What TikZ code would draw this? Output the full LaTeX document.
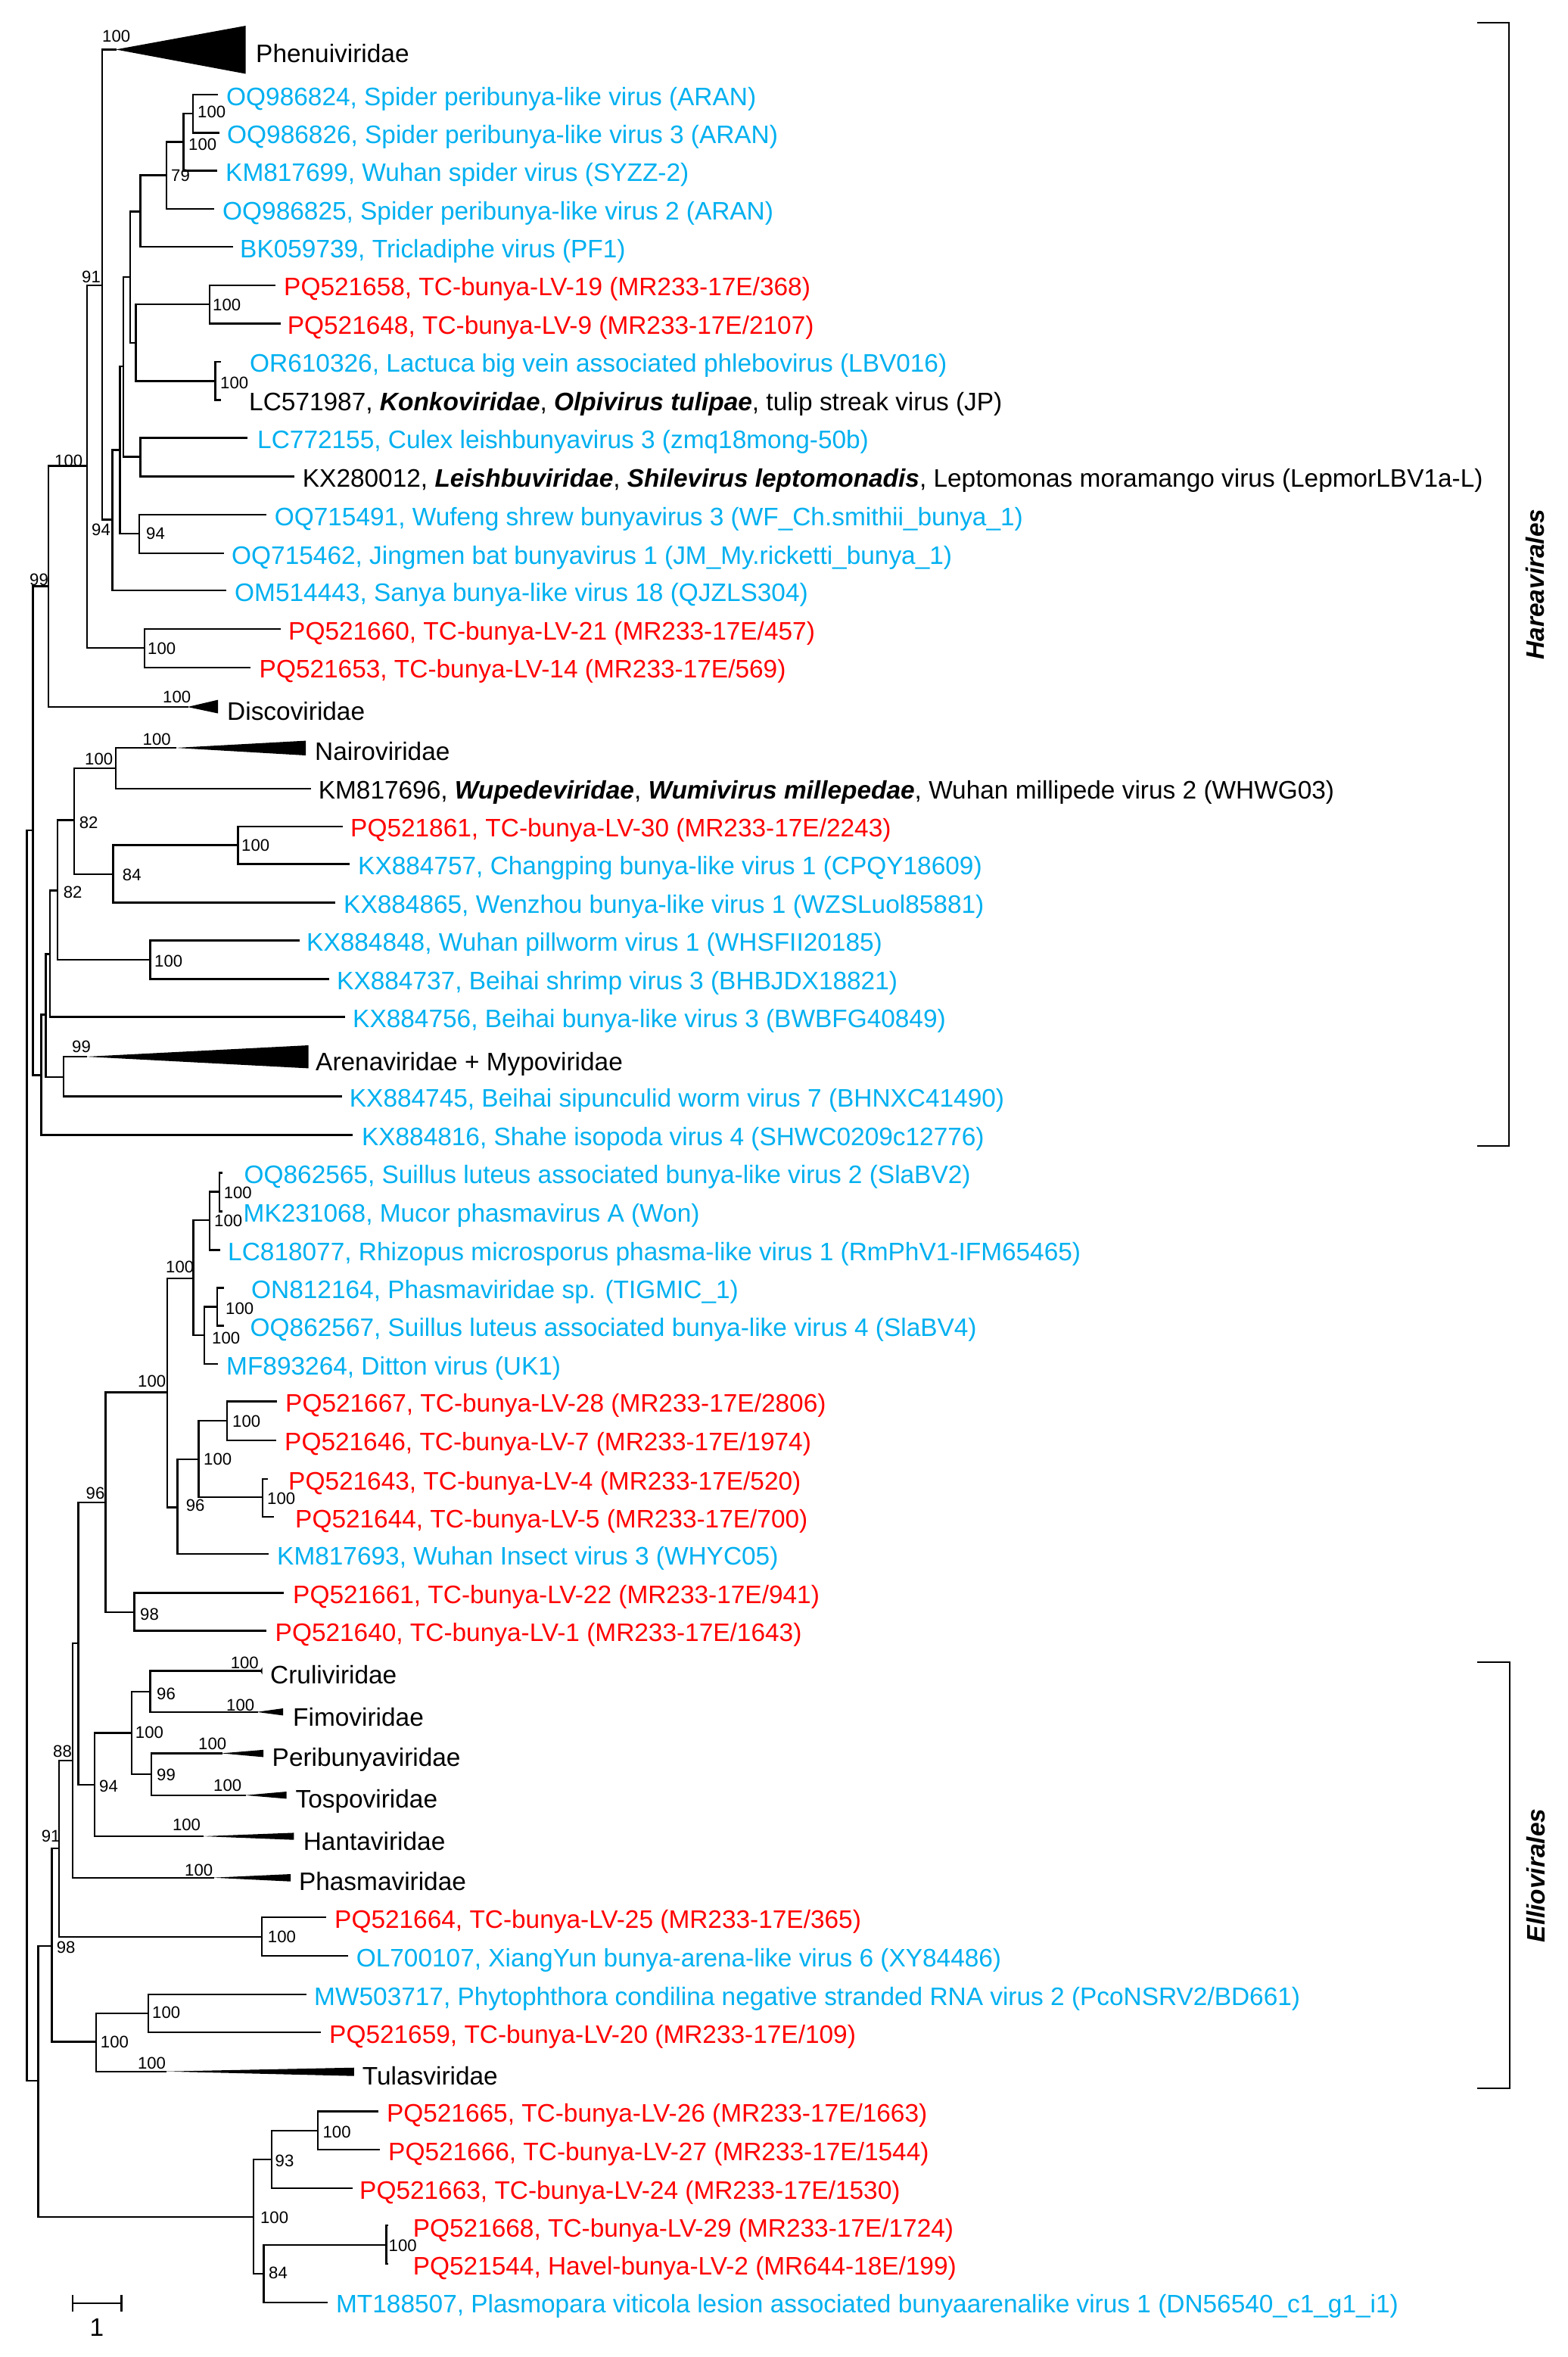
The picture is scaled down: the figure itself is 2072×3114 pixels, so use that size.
\documentclass[tikz,border=0pt]{standalone}
\usepackage{fontspec}
\setmainfont{Liberation Sans}
\usepackage{xcolor}
\usepackage{tikz}
\usetikzlibrary{positioning}

\definecolor{ncbiblue}{RGB}{0,176,240}
\definecolor{tcred}{RGB}{255,0,0}
\newcommand{\taxon}[1]{\textbf{\textit{#1}}}

\begin{document}
\begin{tikzpicture}[x=0.01cm,y=-0.01cm,line width=0.7pt,line cap=rect,
    every node/.style={inner sep=0pt,anchor=base west},
    leaf/.style={font=\fontsize{9.5}{11}\selectfont},
    known/.style={leaf,text=ncbiblue},
    novel/.style={leaf,text=tcred},
    family/.style={leaf},
    boot/.style={font=\fontsize{6.3}{7}\selectfont,anchor=west},
    order/.style={font=\fontsize{9.5}{11}\selectfont\bfseries\itshape,rotate=90,anchor=center}]
  \useasboundingbox (0,0) rectangle (2072,3114);

  % internal nodes, Hareavirales part
  \coordinate (root) at (35.7,1923);
  \coordinate (c1) at (43.3,1097);
  \coordinate (c2) at (63.8,774.6);
  \coordinate (c3) at (115.2,615.7);
  \coordinate (c4) at (134.8,376.8);
  \coordinate (c5) at (148.7,686.4);
  \coordinate (c6) at (158.5,594.3);
  \coordinate (c7) at (163,484);
  \coordinate (c8) at (171.9,366);
  \coordinate (c9) at (185.3,279.3);
  \coordinate (c10) at (220,231.4);
  \coordinate (c11) at (242.4,187.5);
  \coordinate (c12) at (254.9,150);
  \coordinate (c13) at (179.5,452.9);
  \coordinate (c14) at (276.8,401.8);
  \coordinate (c15) at (284.4,503.6);
  \coordinate (c16) at (185.3,603.6);
  \coordinate (c17) at (184,705);
  \coordinate (c18) at (191,856);
  \coordinate (c19) at (54.5,1420.4);
  \coordinate (c20) at (60.3,1340.7);
  \coordinate (c21) at (66,1260.4);
  \coordinate (c22) at (75.9,1176.4);
  \coordinate (c23) at (98.2,1083.6);
  \coordinate (c24) at (153,1015);
  \coordinate (c25) at (149.6,1155);
  \coordinate (c26) at (314.7,1116.4);
  \coordinate (c27) at (198.7,1268.2);
  \coordinate (c28) at (84,1422.8);

  % internal nodes, Elliovirales part
  \coordinate (e1) at (50.4,2749);
  \coordinate (e2) at (68.3,2570.7);
  \coordinate (e3) at (78.1,2442);
  \coordinate (e4) at (96,2326);
  \coordinate (e5) at (103.6,2170.7);
  \coordinate (e6) at (139.7,1985);
  \coordinate (e7) at (221,1839.6);
  \coordinate (e8) at (255.4,1689);
  \coordinate (e9) at (276.8,1612);
  \coordinate (e10) at (290,1574.6);
  \coordinate (e11) at (270,1764);
  \coordinate (e12) at (287,1726.4);
  \coordinate (e13) at (234.4,1991.4);
  \coordinate (e14) at (262.5,1927.9);
  \coordinate (e15) at (300,1877);
  \coordinate (e16) at (346.9,1978.2);
  \coordinate (e17) at (177.7,2130);
  \coordinate (e18) at (125,2358.2);
  \coordinate (e19) at (174.1,2289.6);
  \coordinate (e20) at (198.7,2235);
  \coordinate (e21) at (200,2344);
  \coordinate (e22) at (346,2559);
  \coordinate (e23) at (127.2,2697.5);
  \coordinate (e24) at (196,2660);
  \coordinate (e25) at (334.8,2929);
  \coordinate (e26) at (358.9,2852.7);
  \coordinate (e27) at (420,2815);
  \coordinate (e28) at (348.7,3004);
  \coordinate (e29) at (510.7,2965.7);

  % branch tips
  \coordinate (tPhen) at (153,65.4);
  \coordinate (tOQ986824) at (287,125);
  \coordinate (tOQ986826) at (288.8,175.7);
  \coordinate (tKM817699) at (285.7,225.7);
  \coordinate (tOQ986825) at (282,276);
  \coordinate (tBK059739) at (307,326);
  \coordinate (tPQ521658) at (362.5,376.8);
  \coordinate (tPQ521648) at (369.6,427.5);
  \coordinate (tOR610326) at (291,477.9);
  \coordinate (tLC571987) at (291,528.6);
  \coordinate (tLC772155) at (326,578.6);
  \coordinate (tKX280012) at (387.5,629.3);
  \coordinate (tOQ715491) at (350.4,680);
  \coordinate (tOQ715462) at (294.6,731);
  \coordinate (tOM514443) at (298,780);
  \coordinate (tPQ521660) at (369.6,831);
  \coordinate (tPQ521653) at (330,881.8);
  \coordinate (tDisco) at (247.8,934);
  \coordinate (tNairo) at (232,988);
  \coordinate (tKM817696) at (410,1041.8);
  \coordinate (tPQ521861) at (451.8,1091.8);
  \coordinate (tKX884757) at (460.7,1141.4);
  \coordinate (tKX884865) at (442,1192.5);
  \coordinate (tKX884848) at (395,1242.5);
  \coordinate (tKX884737) at (434,1293.6);
  \coordinate (tKX884756) at (454.5,1343.6);
  \coordinate (tArena) at (113.8,1396);
  \coordinate (tKX884745) at (451,1448.6);
  \coordinate (tKX884816) at (464.3,1499.6);
  \coordinate (tOQ862565) at (292.5,1549.6);
  \coordinate (tMK231068) at (292.5,1600.4);
  \coordinate (tLC818077) at (290,1651.4);
  \coordinate (tON812164) at (294.6,1701.4);
  \coordinate (tOQ862567) at (294.6,1751.4);
  \coordinate (tMF893264) at (287,1802);
  \coordinate (tPQ521667) at (365,1851.4);
  \coordinate (tPQ521646) at (364,1902.9);
  \coordinate (tPQ521643) at (352.7,1954);
  \coordinate (tPQ521644) at (360.7,2004);
  \coordinate (tKM817693) at (354,2053.2);
  \coordinate (tPQ521661) at (374,2104.6);
  \coordinate (tPQ521640) at (350.4,2154.6);
  \coordinate (tCruli) at (343.8,2207.5);
  \coordinate (tFimo) at (339.3,2261.8);
  \coordinate (tPeri) at (292.4,2316.4);
  \coordinate (tTospo) at (323.7,2371.8);
  \coordinate (tHanta) at (267.9,2426);
  \coordinate (tPhasma) at (281.3,2480.7);
  \coordinate (tPQ521664) at (429.5,2533.2);
  \coordinate (tOL700107) at (458.5,2584);
  \coordinate (tMW503717) at (404,2635);
  \coordinate (tPQ521659) at (423,2685);
  \coordinate (tTulas) at (218.8,2736.7);
  \coordinate (tPQ521665) at (498.7,2789.3);
  \coordinate (tPQ521666) at (500.9,2840);
  \coordinate (tPQ521663) at (464.3,2891);
  \coordinate (tPQ521668) at (511.5,2940);
  \coordinate (tPQ521544) at (511.5,2991);
  \coordinate (tMT188507) at (432,3041.7);

  % branches
  \draw (root) |- (c1) (root) |- (e1);
  \draw (c1) |- (c2) (c1) |- (c19);
  \draw (c2) |- (c3) (c2) |- (tDisco);
  \draw (c3) |- (c4) (c3) |- (c18);
  \draw (c4) |- (tPhen) (c4) |- (c5);
  \draw (c5) |- (c6) (c5) |- (tOM514443);
  \draw (c6) |- (c7) (c6) |- (c17);
  \draw (c7) |- (c8) (c7) |- (c16);
  \draw (c8) |- (c9) (c8) |- (c13);
  \draw (c9) |- (c10) (c9) |- (tBK059739);
  \draw (c10) |- (c11) (c10) |- (tOQ986825);
  \draw (c11) |- (c12) (c11) |- (tKM817699);
  \draw (c12) |- (tOQ986824) (c12) |- (tOQ986826);
  \draw (c13) |- (c14) (c13) |- (c15);
  \draw (c14) |- (tPQ521658) (c14) |- (tPQ521648);
  \draw (c15) |- (tOR610326) (c15) |- (tLC571987);
  \draw (c16) |- (tLC772155) (c16) |- (tKX280012);
  \draw (c17) |- (tOQ715491) (c17) |- (tOQ715462);
  \draw (c18) |- (tPQ521660) (c18) |- (tPQ521653);
  \draw (c19) |- (c20) (c19) |- (tKX884816);
  \draw (c20) |- (c21) (c20) |- (c28);
  \draw (c21) |- (c22) (c21) |- (tKX884756);
  \draw (c22) |- (c23) (c22) |- (c27);
  \draw (c23) |- (c24) (c23) |- (c25);
  \draw (c24) |- (tNairo) (c24) |- (tKM817696);
  \draw (c25) |- (c26) (c25) |- (tKX884865);
  \draw (c26) |- (tPQ521861) (c26) |- (tKX884757);
  \draw (c27) |- (tKX884848) (c27) |- (tKX884737);
  \draw (c28) |- (tArena) (c28) |- (tKX884745);
  \draw (e1) |- (e2) (e1) |- (e25);
  \draw (e2) |- (e3) (e2) |- (e23);
  \draw (e3) |- (e4) (e3) |- (e22);
  \draw (e4) |- (e5) (e4) |- (tPhasma);
  \draw (e5) |- (e6) (e5) |- (e18);
  \draw (e6) |- (e7) (e6) |- (e17);
  \draw (e7) |- (e8) (e7) |- (e13);
  \draw (e8) |- (e9) (e8) |- (e11);
  \draw (e9) |- (e10) (e9) |- (tLC818077);
  \draw (e10) |- (tOQ862565) (e10) |- (tMK231068);
  \draw (e11) |- (e12) (e11) |- (tMF893264);
  \draw (e12) |- (tON812164) (e12) |- (tOQ862567);
  \draw (e13) |- (e14) (e13) |- (tKM817693);
  \draw (e14) |- (e15) (e14) |- (e16);
  \draw (e15) |- (tPQ521667) (e15) |- (tPQ521646);
  \draw (e16) |- (tPQ521643) (e16) |- (tPQ521644);
  \draw (e17) |- (tPQ521661) (e17) |- (tPQ521640);
  \draw (e18) |- (e19) (e18) |- (tHanta);
  \draw (e19) |- (e20) (e19) |- (e21);
  \draw (e20) |- (tCruli) (e20) |- (tFimo);
  \draw (e21) |- (tPeri) (e21) |- (tTospo);
  \draw (e22) |- (tPQ521664) (e22) |- (tOL700107);
  \draw (e23) |- (e24) (e23) |- (tTulas);
  \draw (e24) |- (tMW503717) (e24) |- (tPQ521659);
  \draw (e25) |- (e26) (e25) |- (e28);
  \draw (e26) |- (e27) (e26) |- (tPQ521663);
  \draw (e27) |- (tPQ521665) (e27) |- (tPQ521666);
  \draw (e28) |- (e29) (e28) |- (tMT188507);
  \draw (e29) |- (tPQ521668) (e29) |- (tPQ521544);

  % collapsed clades
  \fill (tPhen) -- (324.6,34) -- (324.6,97.5) -- cycle;
  \fill (tDisco) -- (288,924.6) -- (288,942.5) -- cycle;
  \fill (tNairo) -- (404,978.6) -- (404,998) -- cycle;
  \fill (tArena) -- (407.6,1381) -- (407.6,1411.4) -- cycle;
  \fill (tCruli) -- (346.5,2203) -- (346.5,2212) -- cycle;
  \fill (tFimo) -- (374,2257) -- (374,2266.4) -- cycle;
  \fill (tPeri) -- (348.2,2311.8) -- (348.2,2321.4) -- cycle;
  \fill (tTospo) -- (378.6,2367) -- (378.6,2376.4) -- cycle;
  \fill (tHanta) -- (388.4,2421.4) -- (388.4,2430.7) -- cycle;
  \fill (tPhasma) -- (384,2476) -- (384,2485.7) -- cycle;
  \fill (tTulas) -- (467.9,2731.7) -- (467.9,2742.7) -- cycle;

  % leaf labels
  \node[family] (Phen) at (337,82) {Phenuiviridae};
  \node[known] (OQ986824) at (298,139) {OQ986824, Spider peribunya-like virus (ARAN)};
  \node[known] (OQ986826) at (299,189.7) {OQ986826, Spider peribunya-like virus 3 (ARAN)};
  \node[known] (KM817699) at (297,239.7) {KM817699, Wuhan spider virus (SYZZ-2)};
  \node[known] (OQ986825) at (293,290) {OQ986825, Spider peribunya-like virus 2 (ARAN)};
  \node[known] (BK059739) at (316,340) {BK059739, Tricladiphe virus (PF1)};
  \node[novel] (PQ521658) at (374,390.8) {PQ521658, TC-bunya-LV-19 (MR233-17E/368)};
  \node[novel] (PQ521648) at (378.6,441.5) {PQ521648, TC-bunya-LV-9 (MR233-17E/2107)};
  \node[known] (OR610326) at (329,491.9) {OR610326, Lactuca big vein associated phlebovirus (LBV016)};
  \node[leaf] (LC571987) at (328,542.6) {LC571987, \taxon{Konkoviridae}, \taxon{Olpivirus tulipae}, tulip streak virus (JP)};
  \node[known] (LC772155) at (339,592.6) {LC772155, Culex leishbunyavirus 3 (zmq18mong-50b)};
  \node[leaf] (KX280012) at (398.7,643.3) {KX280012, \taxon{Leishbuviridae}, \taxon{Shilevirus leptomonadis}, Leptomonas moramango virus (LepmorLBV1a-L)};
  \node[known] (OQ715491) at (361.6,694) {OQ715491, Wufeng shrew bunyavirus 3 (WF\_Ch.smithii\_bunya\_1)};
  \node[known] (OQ715462) at (305,745) {OQ715462, Jingmen bat bunyavirus 1 (JM\_My.ricketti\_bunya\_1)};
  \node[known] (OM514443) at (309,794) {OM514443, Sanya bunya-like virus 18 (QJZLS304)};
  \node[novel] (PQ521660) at (380,845) {PQ521660, TC-bunya-LV-21 (MR233-17E/457)};
  \node[novel] (PQ521653) at (341.5,895.8) {PQ521653, TC-bunya-LV-14 (MR233-17E/569)};
  \node[family] (Disco) at (299,951) {Discoviridae};
  \node[family] (Nairo) at (415,1004.6) {Nairoviridae};
  \node[leaf] (KM817696) at (419.6,1055.8) {KM817696, \taxon{Wupedeviridae}, \taxon{Wumivirus millepedae}, Wuhan millipede virus 2 (WHWG03)};
  \node[novel] (PQ521861) at (462,1105.8) {PQ521861, TC-bunya-LV-30 (MR233-17E/2243)};
  \node[known] (KX884757) at (472,1155.4) {KX884757, Changping bunya-like virus 1 (CPQY18609)};
  \node[known] (KX884865) at (453,1206.5) {KX884865, Wenzhou bunya-like virus 1 (WZSLuol85881)};
  \node[known] (KX884848) at (404,1256.5) {KX884848, Wuhan pillworm virus 1 (WHSFII20185)};
  \node[known] (KX884737) at (444,1307.6) {KX884737, Beihai shrimp virus 3 (BHBJDX18821)};
  \node[known] (KX884756) at (465,1357.6) {KX884756, Beihai bunya-like virus 3 (BWBFG40849)};
  \node[family] (Arena) at (416,1414) {Arenaviridae + Mypoviridae};
  \node[known] (KX884745) at (460.7,1462.6) {KX884745, Beihai sipunculid worm virus 7 (BHNXC41490)};
  \node[known] (KX884816) at (476.8,1513.6) {KX884816, Shahe isopoda virus 4 (SHWC0209c12776)};
  \node[known] (OQ862565) at (321.4,1563.6) {OQ862565, Suillus luteus associated bunya-like virus 2 (SlaBV2)};
  \node[known] (MK231068) at (320.5,1614.4) {MK231068, Mucor phasmavirus A (Won)};
  \node[known] (LC818077) at (300,1665.4) {LC818077, Rhizopus microsporus phasma-like virus 1 (RmPhV1-IFM65465)};
  \node[known] (ON812164) at (331,1715.4) {ON812164, Phasmaviridae sp. (TIGMIC\_1)};
  \node[known] (OQ862567) at (329.5,1765.4) {OQ862567, Suillus luteus associated bunya-like virus 4 (SlaBV4)};
  \node[known] (MF893264) at (298,1816) {MF893264, Ditton virus (UK1)};
  \node[novel] (PQ521667) at (376,1865.4) {PQ521667, TC-bunya-LV-28 (MR233-17E/2806)};
  \node[novel] (PQ521646) at (375,1916.9) {PQ521646, TC-bunya-LV-7 (MR233-17E/1974)};
  \node[novel] (PQ521643) at (380,1968) {PQ521643, TC-bunya-LV-4 (MR233-17E/520)};
  \node[novel] (PQ521644) at (389,2018) {PQ521644, TC-bunya-LV-5 (MR233-17E/700)};
  \node[known] (KM817693) at (365,2067.2) {KM817693, Wuhan Insect virus 3 (WHYC05)};
  \node[novel] (PQ521661) at (386,2118.6) {PQ521661, TC-bunya-LV-22 (MR233-17E/941)};
  \node[novel] (PQ521640) at (362.5,2168.6) {PQ521640, TC-bunya-LV-1 (MR233-17E/1643)};
  \node[family] (Cruli) at (356,2224.6) {Cruliviridae};
  \node[family] (Fimo) at (386,2280) {Fimoviridae};
  \node[family] (Peri) at (358.5,2333.5) {Peribunyaviridae};
  \node[family] (Tospo) at (389.3,2388.9) {Tospoviridae};
  \node[family] (Hanta) at (399.6,2444) {Hantaviridae};
  \node[family] (Phasma) at (393.8,2497.8) {Phasmaviridae};
  \node[novel] (PQ521664) at (441,2547.2) {PQ521664, TC-bunya-LV-25 (MR233-17E/365)};
  \node[known] (OL700107) at (469.6,2598) {OL700107, XiangYun bunya-arena-like virus 6 (XY84486)};
  \node[known] (MW503717) at (414,2649) {MW503717, Phytophthora condilina negative stranded RNA virus 2 (PcoNSRV2/BD661)};
  \node[novel] (PQ521659) at (434,2699) {PQ521659, TC-bunya-LV-20 (MR233-17E/109)};
  \node[family] (Tulas) at (477.7,2754.3) {Tulasviridae};
  \node[novel] (PQ521665) at (509.8,2803.3) {PQ521665, TC-bunya-LV-26 (MR233-17E/1663)};
  \node[novel] (PQ521666) at (512,2854) {PQ521666, TC-bunya-LV-27 (MR233-17E/1544)};
  \node[novel] (PQ521663) at (474,2905) {PQ521663, TC-bunya-LV-24 (MR233-17E/1530)};
  \node[novel] (PQ521668) at (544.6,2955) {PQ521668, TC-bunya-LV-29 (MR233-17E/1724)};
  \node[novel] (PQ521544) at (544.6,3005) {PQ521544, Havel-bunya-LV-2 (MR644-18E/199)};
  \node[known] (MT188507) at (442.9,3055.7) {MT188507, Plasmopara viticola lesion associated bunyaarenalike virus 1 (DN56540\_c1\_g1\_i1)};

  % bootstrap values
  \node[boot] (bPhen) at (134,48) {100};
  \node[boot] (bc12) at (260,147.5) {100};
  \node[boot] (bc11) at (248,191) {100};
  \node[boot] (bc10) at (225,232) {79};
  \node[boot] (bc4) at (107,366) {91};
  \node[boot] (bc14) at (280,403) {100};
  \node[boot] (bc15) at (290,506) {100};
  \node[boot] (bc3) at (71,609) {100};
  \node[boot] (bc5) at (120,700) {94};
  \node[boot] (bc17) at (192,705) {94};
  \node[boot] (bc2) at (38,766) {99};
  \node[boot] (bc18) at (194,857) {100};
  \node[boot] (bDisco) at (214,921) {100};
  \node[boot] (bNairo) at (187.5,976.6) {100};
  \node[boot] (bc24) at (111,1003) {100};
  \node[boot] (bc23) at (103.6,1087) {82};
  \node[boot] (bc26) at (318,1116.6) {100};
  \node[boot] (bc25) at (160.7,1156) {84};
  \node[boot] (bc22) at (82.6,1179) {82};
  \node[boot] (bc27) at (203,1270) {100};
  \node[boot] (bArena) at (94,1382.6) {99};
  \node[boot] (be10) at (294.6,1575.6) {100};
  \node[boot] (be9) at (282,1613) {100};
  \node[boot] (be8) at (218,1674) {100};
  \node[boot] (be12) at (297,1729) {100};
  \node[boot] (be11) at (279,1768) {100};
  \node[boot] (be7) at (181,1825) {100};
  \node[boot] (be15) at (306,1878) {100};
  \node[boot] (be14) at (268,1928) {100};
  \node[boot] (be6) at (112.5,1973) {96};
  \node[boot] (be16) at (352,1980) {100};
  \node[boot] (be13) at (244.6,1989) {96};
  \node[boot] (be17) at (184,2133) {98};
  \node[boot] (bCruli) at (303.6,2196.6) {100};
  \node[boot] (be20) at (206,2237.6) {96};
  \node[boot] (bFimo) at (298,2252.6) {100};
  \node[boot] (be19) at (177.7,2288.6) {100};
  \node[boot] (bPeri) at (261,2303.8) {100};
  \node[boot] (be4) at (69,2314) {88};
  \node[boot] (be21) at (206,2345) {99};
  \node[boot] (bTospo) at (281,2359) {100};
  \node[boot] (be18) at (130,2360) {94};
  \node[boot] (bHanta) at (226.8,2411) {100};
  \node[boot] (be3) at (53.6,2426) {91};
  \node[boot] (bPhasma) at (243,2471) {100};
  \node[boot] (be22) at (352.7,2559) {100};
  \node[boot] (be2) at (73.7,2572.5) {98};
  \node[boot] (be24) at (200,2659) {100};
  \node[boot] (be23) at (131.7,2697.5) {100};
  \node[boot] (bTulas) at (180.8,2725.8) {100};
  \node[boot] (be27) at (425.4,2816.7) {100};
  \node[boot] (be26) at (362.5,2855) {93};
  \node[boot] (be25) at (342.9,2930) {100};
  \node[boot] (be29) at (512.5,2966.7) {100};
  \node[boot] (be28) at (354,3003) {84};

  % scale bar
  \coordinate (sbl) at (96,3043);
  \coordinate (sbr) at (160.7,3043);
  \draw (sbl) -- (sbr);
  \draw (sbl) ++(0,-10) -- ++(0,20);
  \draw (sbr) ++(0,-10) -- ++(0,20);
  \node[leaf,anchor=base] (sblab) at (128,3086) {1};

  % orders
  \coordinate (hTop) at (1953,30);
  \coordinate (hBot) at (1953,1514);
  \draw (hTop) -- ++(41,0) |- (hBot);
  \node[order] (Harea) at (2029,772) {Hareavirales};
  \coordinate (eTop) at (1953,2196);
  \coordinate (eBot) at (1953,2759);
  \draw (eTop) -- ++(42,0) |- (eBot);
  \node[order] (Ellio) at (2030,2478) {Elliovirales};
\end{tikzpicture}
\end{document}
